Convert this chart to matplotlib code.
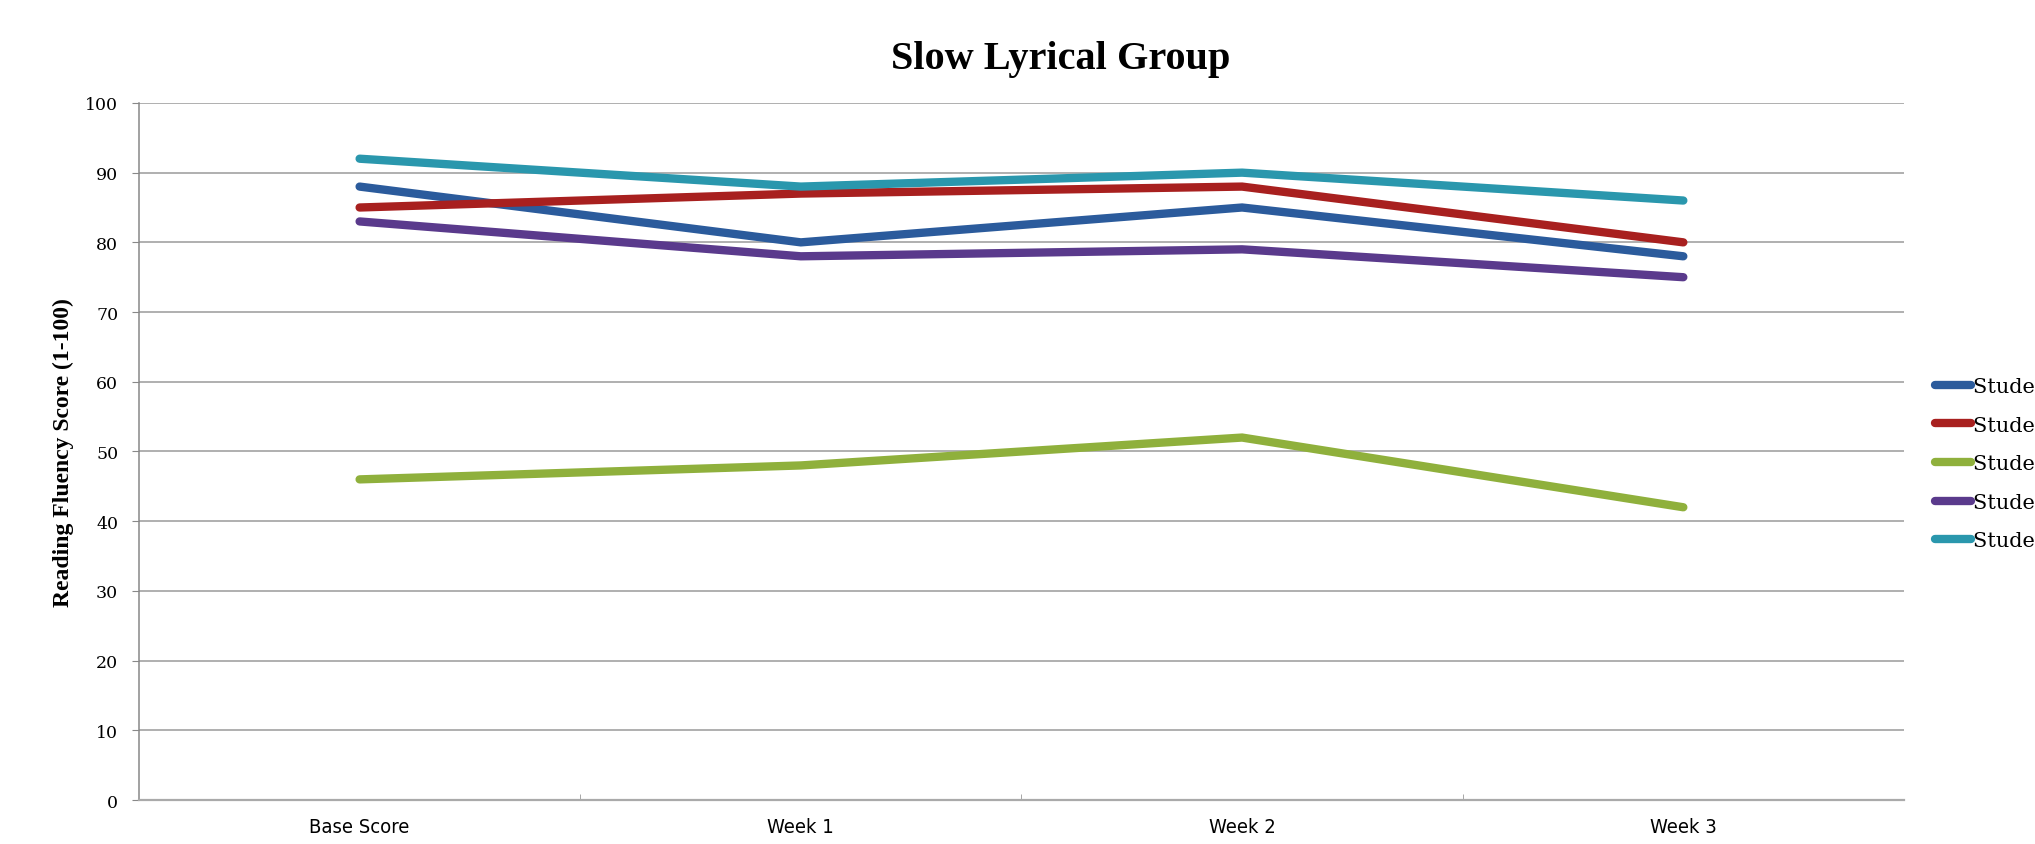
import matplotlib
matplotlib.use("Agg")
import matplotlib.pyplot as plt
from matplotlib.ticker import FixedLocator

# Scores per assessment point
categories = ["Base Score", "Week 1", "Week 2", "Week 3"]
student_1 = [88, 80, 85, 78]
student_2 = [85, 87, 88, 80]
student_3 = [46, 48, 52, 42]
student_4 = [83, 78, 79, 75]
student_5 = [92, 88, 90, 86]
series_names = ["Student 1", "Student 2", "Student 3", "Student 4", "Student 5"]
series_colors = ["#2b5b9c", "#a8201f", "#8fb03c", "#5a3a8c", "#2a97ad"]
y_ticks = list(range(0, 101, 10))

fig = plt.figure(figsize=(20.35, 8.45), dpi=100)
ax = fig.add_axes([0.0683, 0.052, 0.8673, 0.825])

x = list(range(len(categories)))
for vals, name, col in zip([student_1, student_2, student_3, student_4, student_5],
                           series_names, series_colors):
    ax.plot(x, vals, color=col, lw=6, solid_capstyle="round",
            solid_joinstyle="miter", label=name, zorder=3)

ax.set_xlim(-0.5, len(categories) - 0.5)
ax.set_ylim(0, 100)
ax.set_yticks(y_ticks)
ax.set_yticklabels([str(v) for v in y_ticks], fontfamily="DejaVu Serif", fontsize=12.5)
ax.set_xticks(x)
ax.set_xticklabels(categories, fontfamily="DejaVu Sans", fontstretch="condensed",
                   fontsize=14.5)
ax.xaxis.set_minor_locator(FixedLocator([0.5, 1.5, 2.5]))
ax.tick_params(axis="x", which="major", length=0, pad=12)
ax.tick_params(axis="x", which="minor", length=4, color="#999999", direction="in")
ax.tick_params(axis="y", length=5, color="#888888", pad=10)

ax.grid(axis="y", color="#9a9a9a", lw=1.1, zorder=0)
for side in ["top", "right"]:
    ax.spines[side].set_visible(False)
ax.spines["left"].set_color("#888888")
ax.spines["bottom"].set_color("#aaaaaa")
ax.spines["left"].set_linewidth(1.1)
ax.spines["bottom"].set_linewidth(1.6)

ax.set_ylabel("Reading Fluency Score (1-100)", fontfamily="Liberation Serif",
              fontweight="bold", fontsize=17, labelpad=8)
fig.text(0.521, 0.930, "Slow Lyrical Group", ha="center", va="center",
         fontfamily="Liberation Serif", fontweight="bold", fontsize=29)

fig.legend(loc="center left", bbox_to_anchor=(0.951, 0.45), frameon=False,
           prop={"family": "DejaVu Serif", "size": 15},
           borderpad=0, borderaxespad=0,
           handlelength=1.7, handletextpad=0.1, labelspacing=0.94)

fig.savefig("out.png", dpi=100, facecolor="white")
